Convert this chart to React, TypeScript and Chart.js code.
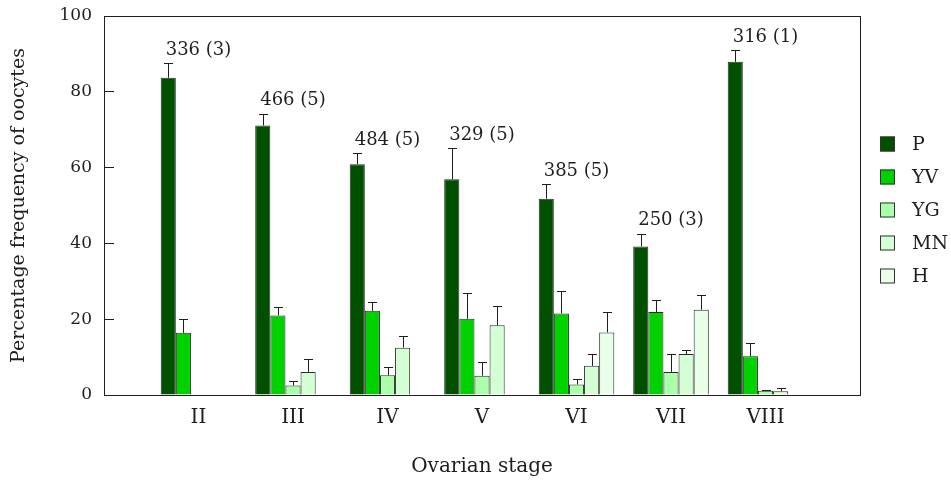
import React, { useEffect, useRef } from "react";
import { Chart, registerables } from "chart.js";

Chart.register(...registerables);

const stages = ["II", "III", "IV", "V", "VI", "VII", "VIII"];
const counts = ["336 (3)", "466 (5)", "484 (5)", "329 (5)", "385 (5)", "250 (3)", "316 (1)"];

const seriesNames = ["P", "YV", "YG", "MN", "H"];
const seriesColors = ["#005000", "#00d200", "#aaffaa", "#d4ffd4", "#e8ffe8"];

const P = [83.7, 71.1, 60.9, 56.9, 51.8, 39.2, 87.9];
const P_err = [3.8, 3.1, 2.9, 8.2, 3.9, 3.4, 3.0];
const YV = [16.4, 21.0, 22.2, 20.1, 21.5, 21.9, 10.2];
const YV_err = [3.6, 2.1, 2.4, 6.8, 6.0, 3.2, 3.4];
const YG = [null, 2.5, 5.2, 5.1, 2.8, 6.1, 1.1];
const YG_err = [null, 1.2, 2.3, 3.7, 1.5, 4.6, 0.2];
const MN = [null, 6.1, 12.5, 18.4, 7.7, 10.8, 1.0];
const MN_err = [null, 3.3, 3.1, 5.1, 3.1, 1.2, 0.8];
const H = [null, null, null, null, 16.5, 22.5, null];
const H_err = [null, null, null, null, 5.5, 3.9, null];

const yTicks = [0, 20, 40, 60, 80, 100];

const FONT = "'DejaVu Serif', serif";
const INK = "#1e1e1e";

const values = [P, YV, YG, MN, H];
const errors = [P_err, YV_err, YG_err, MN_err, H_err];

// padded so categories sit at 1..7 on an 8-interval axis
const pad = (arr: (number | null)[]) => [null, ...arr, null];

const errorBarPlugin = {
  id: "errorBars",
  afterDatasetsDraw(chart: any) {
    const ctx = chart.ctx;
    const yScale = chart.scales.y;
    ctx.save();
    ctx.strokeStyle = INK;
    ctx.lineWidth = 1;
    chart.data.datasets.forEach((ds: any, di: number) => {
      const meta = chart.getDatasetMeta(di);
      meta.data.forEach((el: any, i: number) => {
        const v = ds.data[i];
        const e = ds.errs[i];
        if (v == null || e == null) return;
        const x = Math.round(el.x) + 0.5;
        const y0 = yScale.getPixelForValue(v);
        const y1 = Math.round(yScale.getPixelForValue(v + e)) + 0.5;
        ctx.beginPath();
        ctx.moveTo(x, y0);
        ctx.lineTo(x, y1);
        ctx.moveTo(x - 4.5, y1);
        ctx.lineTo(x + 4.5, y1);
        ctx.stroke();
      });
    });
    // counts above P bars
    const xScale = chart.scales.x;
    ctx.fillStyle = INK;
    ctx.font = `18px ${FONT}`;
    ctx.textAlign = "center";
    ctx.textBaseline = "middle";
    counts.forEach((c, i) => {
      const top = yScale.getPixelForValue(P[i] + P_err[i]);
      ctx.fillText(c, xScale.getPixelForValue(i + 1), top - 13);
    });
    ctx.restore();
  },
};

const framePlugin = {
  id: "frame",
  afterDraw(chart: any) {
    const { ctx, chartArea } = chart;
    ctx.save();
    ctx.strokeStyle = INK;
    ctx.lineWidth = 1;
    ctx.strokeRect(
      Math.round(chartArea.left) + 0.5,
      Math.round(chartArea.top) + 0.5,
      Math.round(chartArea.right - chartArea.left),
      Math.round(chartArea.bottom - chartArea.top)
    );
    // legend
    const lx = chartArea.right + 20;
    let ly = 144;
    ctx.font = `19px ${FONT}`;
    ctx.textAlign = "left";
    ctx.textBaseline = "middle";
    chart.data.datasets.forEach((ds: any) => {
      ctx.fillStyle = ds.backgroundColor;
      ctx.fillRect(lx, ly - 7.5, 15, 15);
      ctx.strokeStyle = "#333";
      ctx.strokeRect(lx + 0.5, ly - 7, 14, 14);
      ctx.fillStyle = INK;
      ctx.fillText(ds.label, lx + 32, ly + 1);
      ly += 33;
    });
    ctx.restore();
  },
};

export default function App() {
  const ref = useRef<HTMLCanvasElement>(null);
  useEffect(() => {
    document.body.style.margin = "0";
    const labels = ["", ...stages, ""];
    const chart = new Chart(ref.current!, {
      type: "bar",
      data: {
        labels,
        datasets: seriesNames.map((name, si) => ({
          label: name,
          data: pad(values[si]),
          errs: pad(errors[si]),
          backgroundColor: seriesColors[si],
          borderColor: "#2a2a2a",
          borderWidth: 1,
          categoryPercentage: 0.8,
          barPercentage: 1.0,
        })) as any,
      },
      options: {
        animation: false,
        responsive: false,
        devicePixelRatio: 1,
        layout: { padding: { left: 0, right: 91, top: 16, bottom: 0 } },
        plugins: {
          legend: { display: false },
          tooltip: { enabled: false },
        },
        scales: {
          x: {
            type: "category",
            offset: false,
            grid: { display: false, drawTicks: false },
            border: { display: true, color: INK },
            ticks: {
              color: INK,
              font: { family: FONT, size: 20 },
              padding: 11,
              autoSkip: false,
              maxRotation: 0,
            },
            title: {
              display: true,
              text: "Ovarian stage",
              color: INK,
              font: { family: FONT, size: 20 },
              padding: { top: 0, bottom: 4 },
            },
            afterFit(scale: any) {
              scale.height = 88;
              scale.paddingLeft = 0;
              scale.paddingRight = 0;
            },
          },
          y: {
            min: 0,
            max: 100,
            grid: { drawOnChartArea: false, drawTicks: true, tickLength: -10, color: INK },
            border: { display: true, color: INK },
            afterBuildTicks(scale: any) {
              scale.ticks = yTicks.map((v) => ({ value: v }));
            },
            ticks: {
              color: INK,
              font: { family: FONT, size: 17 },
              padding: 22,
            },
            title: {
              display: true,
              text: "Percentage frequency of oocytes",
              color: INK,
              font: { family: FONT, size: 19 },
              padding: { top: 8, bottom: 0 },
            },
            afterFit(scale: any) {
              scale.width = 104;
              scale.paddingTop = 0;
              scale.paddingBottom = 0;
            },
          },
        },
      },
      plugins: [errorBarPlugin, framePlugin],
    });
    return () => chart.destroy();
  }, []);
  return <canvas ref={ref} width={951} height={483} style={{ width: 951, height: 483, display: "block" }} />;
}
